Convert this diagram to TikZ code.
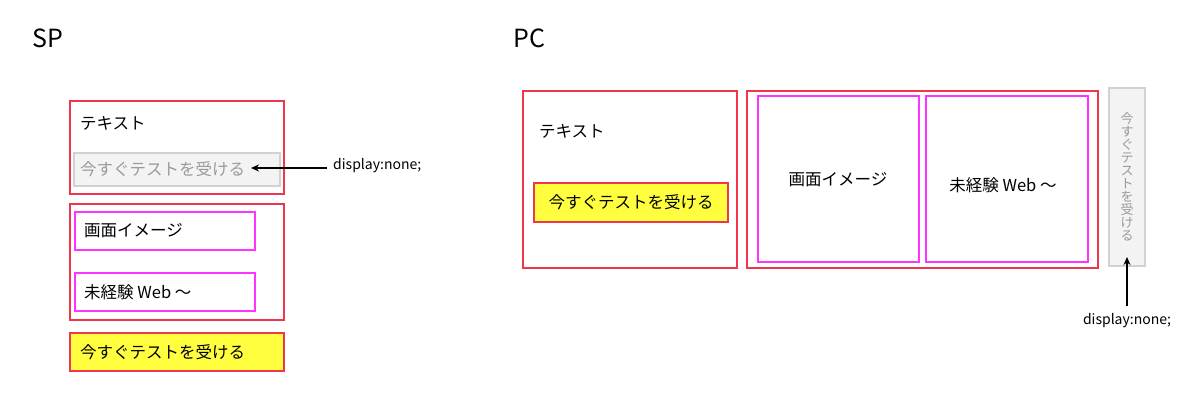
\documentclass[tikz,border=0pt]{standalone}
\usepackage{fontspec}
\setmainfont{Noto Sans CJK JP}
\definecolor{rbox}{HTML}{F0354F}
\definecolor{mbox}{HTML}{FF33FF}
\definecolor{ybtn}{HTML}{FFFF40}
\definecolor{gfill}{HTML}{F3F3F3}
\definecolor{gline}{HTML}{D2D2D2}
\definecolor{gtext}{HTML}{9A9A9A}
\tikzset{
  redbox/.style={draw=rbox, line width=1.6pt, rectangle, inner sep=0pt},
  magbox/.style={draw=mbox, line width=1.6pt, rectangle, inner sep=0pt},
  yelbox/.style={draw=rbox, fill=ybtn, line width=1.6pt, rectangle, inner sep=0pt},
  graybox/.style={draw=gline, fill=gfill, line width=1.4pt, rectangle, inner sep=0pt},
  lbl/.style={inner sep=0pt, font=\fontsize{16.5}{20}\selectfont},
  glbl/.style={lbl, text=gtext},
  note/.style={inner sep=0pt, font=\fontsize{14}{17}\selectfont},
  head/.style={inner sep=0pt, anchor=west, font=\fontsize{25}{30}\selectfont},
  arr/.style={-{Stealth[length=8pt,width=7pt]}, line width=1.3pt}
}
\usetikzlibrary{arrows.meta}
\begin{document}
\begin{tikzpicture}[x=1pt,y=-1pt]
\useasboundingbox (0,0) rectangle (1200,404);
% headings
\node[head] (sp) at (32,38) {SP};
\node[head] (pc) at (513,38) {PC};
% ---- SP ----
\node[redbox, minimum width=214pt, minimum height=93pt] (sp1) at (177,147.5) {};
\node[lbl, anchor=west] (sptxt) at (80,123) {テキスト};
\node[graybox, minimum width=206pt, minimum height=33pt] (spgray) at (177,169.5) {};
\node[glbl, anchor=west] (spgraytxt) at (80,169) {今すぐテストを受ける};
\node[note, anchor=west] (spnote) at (333,166) {display:none;};
\coordinate (spstart) at (327,168);
\coordinate (spend) at (251,168);
\draw[arr] (spstart) -- (spend);
\node[redbox, minimum width=214pt, minimum height=116pt] (sp2) at (177,262) {};
\node[magbox, minimum width=180pt, minimum height=38pt] (spm1) at (165,231) {};
\node[lbl, anchor=west] (spm1txt) at (84,231) {画面イメージ};
\node[magbox, minimum width=180pt, minimum height=38pt] (spm2) at (165,292) {};
\node[lbl, anchor=west] (spm2txt) at (84,292) {未経験 Web ～};
\node[yelbox, minimum width=214pt, minimum height=38pt] (spbtn) at (177,352) {};
\node[lbl, anchor=west] (spbtntxt) at (80,352) {今すぐテストを受ける};
% ---- PC ----
\node[redbox, minimum width=214pt, minimum height=177pt] (pc1) at (630,179.5) {};
\node[lbl, anchor=west] (pctxt) at (539,131) {テキスト};
\node[yelbox, minimum width=194pt, minimum height=39pt] (pcbtn) at (631,202.5) {};
\node[lbl] (pcbtntxt) at (631,202) {今すぐテストを受ける};
\node[redbox, minimum width=351pt, minimum height=177pt] (pc2) at (922.5,179.5) {};
\node[magbox, minimum width=161pt, minimum height=166pt] (pcm1) at (838.5,179) {};
\node[lbl] (pcm1txt) at (838,180) {画面イメージ};
\node[magbox, minimum width=162pt, minimum height=166pt] (pcm2) at (1007,179) {};
\node[lbl] (pcm2txt) at (1003,185) {未経験 Web ～};
\node[graybox, minimum width=36pt, minimum height=178pt] (pcgray) at (1127,177) {};
\node[inner sep=0pt, align=center, text=gtext, font=\fontsize{13}{13}\selectfont] (pcgraytxt) at (1127,177)
  {今\\す\\ぐ\\テ\\ス\\ト\\を\\受\\け\\る};
\node[note] (pcnote) at (1127,321) {display:none;};
\coordinate (pcstart) at (1127,306);
\coordinate (pcend) at (1127,257);
\draw[arr] (pcstart) -- (pcend);
\end{tikzpicture}
\end{document}
